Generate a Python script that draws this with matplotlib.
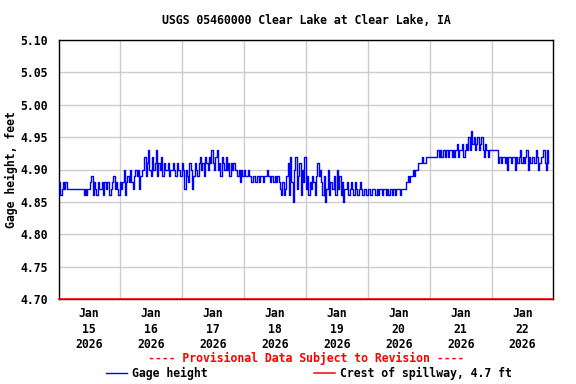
import matplotlib
matplotlib.use("Agg")
import matplotlib.pyplot as plt
import matplotlib.dates as mdates
import numpy as np
import pandas as pd

TITLE = "USGS 05460000 Clear Lake at Clear Lake, IA"
Y_LABEL = "Gage height, feet"
NOTE = "---- Provisional Data Subject to Revision ----"
SERIES_NAME = "Gage height"
CREST_NAME = "Crest of spillway, 4.7 ft"
CREST_VALUE = 4.70

# half-hourly gage height, hundredths of a foot (starting Jan 14 12:30)
jan14 = [488, 486, 487, 488, 487, 488, 487, 487, 487, 487, 487, 487, 487, 487,
         487, 487, 487, 487, 487, 486, 487, 486, 487]
jan15 = [487, 488, 489, 486, 488, 487, 486, 488, 487, 487, 488, 486, 488, 487,
         488, 488, 486, 487, 488, 489, 487, 488, 487, 486, 488, 487, 488,
         490, 486, 488, 489, 488, 490, 488, 487, 489, 490, 489, 490, 487, 489,
         490, 490, 492, 489, 491, 493, 490]
jan16 = [489, 492, 490, 491, 493, 489, 491, 490, 492, 489, 491, 490,
         490, 491, 489, 490, 490, 491, 490, 489, 491, 490, 490, 489, 491, 490,
         487, 490, 489, 488, 491, 490, 487, 489, 491, 490,
         489, 491, 492, 490, 491, 489, 492, 491, 490, 492, 491, 493]
jan17 = [491, 490, 492, 493, 490, 491, 489, 492, 491, 490, 492, 490, 491, 489,
         491, 490, 491, 490, 490, 489, 490, 488, 490, 489, 490, 489, 489, 490,
         489, 489, 488, 489, 489, 488, 489, 489, 488, 489, 489, 488, 489, 489,
         490, 489, 488, 489, 489, 488]
jan18 = [489, 488, 489, 488, 487, 486, 488, 486, 487, 489,
         491, 486, 492, 488, 485, 490, 492, 487, 489, 491, 486, 490, 488, 492,
         487, 489, 486, 488, 487, 489, 488, 486, 489, 491, 489, 490,
         488, 486, 489, 485, 487, 490, 486, 488, 487, 487, 489, 486]
jan19 = [490, 487, 489, 486, 488, 485, 487,
         487, 488, 486, 487, 488, 487, 486, 488, 487, 486, 487, 488,
         487, 486, 487, 487, 486, 487, 487, 486, 487, 487, 487, 486, 487, 486,
         487, 487, 486, 487, 487, 486, 487, 486, 487, 487, 486, 487, 486, 487, 487]
jan20 = [487, 486, 487, 487, 487, 487, 488, 489, 488, 489, 489, 490, 489,
         490, 490, 491, 491, 491, 492, 491, 491, 492,
         492, 492, 492, 492, 492, 492, 492, 492,
         493, 492, 493, 492, 493, 493, 492, 493, 492, 493, 493, 492, 493, 492,
         493, 494, 492, 493]
jan21 = [493, 494, 492, 493, 494, 493, 495, 493, 496, 494, 495, 493,
         494, 495, 493, 494, 495, 493, 492, 494, 493, 492, 493,
         493, 493, 493, 493, 493, 493,
         491, 492, 491, 492, 492, 491, 492, 490, 492, 492, 491, 492, 492, 490,
         492, 491, 492, 493, 491]
jan22 = [492, 491, 492, 493, 490, 492, 491, 492, 492, 491, 493, 492, 490, 491,
         492, 492, 493, 491, 490, 493, 491]

hundredths = jan14 + jan15 + jan16 + jan17 + jan18 + jan19 + jan20 + jan21 + jan22
values = np.array(hundredths) / 100.0
times = pd.date_range("2026-01-14 12:30", periods=len(values), freq="30min")

x_start = pd.Timestamp("2026-01-14 12:29")
x_end = pd.Timestamp("2026-01-22 11:46")
y_ticks = [4.70, 4.75, 4.80, 4.85, 4.90, 4.95, 5.00, 5.05, 5.10]
label_days = pd.date_range("2026-01-15", "2026-01-22", freq="D")
grid_days = pd.date_range("2026-01-15 12:00", "2026-01-21 12:00", freq="D")

FONT = "DejaVu Sans Mono"
plt.rcParams["font.family"] = FONT
plt.rcParams["font.weight"] = "bold"

fig = plt.figure(figsize=(5.76, 3.84), dpi=100)
ax = fig.add_axes([59/576, 1-299/384, (553-59)/576, (299-40)/384])

line_g, = ax.plot(times, values, color="#0000FF", lw=1.0, drawstyle="steps-post",
                  label=SERIES_NAME, zorder=3)
line_c = ax.axhline(CREST_VALUE, color="#FF0000", lw=1.1, label=CREST_NAME,
                    clip_on=False, zorder=5)

ax.set_xlim(x_start, x_end)
ax.set_ylim(y_ticks[0], y_ticks[-1])
ax.set_yticks(y_ticks)
ax.set_yticklabels([f"{v:.2f}" for v in y_ticks])
ax.set_xticks(label_days)
ax.set_xticklabels([d.strftime("%b\n%d\n%Y") for d in label_days], linespacing=1.25)
ax.set_xticks(grid_days, minor=True)
ax.tick_params(axis="both", which="both", length=0, labelsize=8.3, pad=6)
ax.tick_params(axis="y", pad=8)
ax.grid(False)
ax.grid(True, which="minor", axis="x", color="#cccccc", lw=1.0)
ax.grid(True, which="major", axis="y", color="#cccccc", lw=1.0)
ax.set_axisbelow(True)
for s in ax.spines.values():
    s.set_color("black")
    s.set_linewidth(1.0)

ax.set_ylabel(Y_LABEL, fontsize=8.3, fontweight="bold", labelpad=2)
fig.text(306/576, 1-20/384, TITLE, ha="center", va="center", fontsize=8.3,
         fontweight="bold")
fig.text(306/576, 1-358/384, NOTE, ha="center", va="center", fontsize=8.3,
         fontweight="bold", color="#FF0000")
fig.legend(handles=[line_g, line_c], loc="center", bbox_to_anchor=(309/576, 1-373/384),
           ncol=2, frameon=False, handlelength=1.8, handletextpad=0.4,
           columnspacing=9.3, borderpad=0, borderaxespad=0,
           prop={"family": FONT, "weight": "bold", "size": 8.3})

fig.savefig("out.png", dpi=100)
